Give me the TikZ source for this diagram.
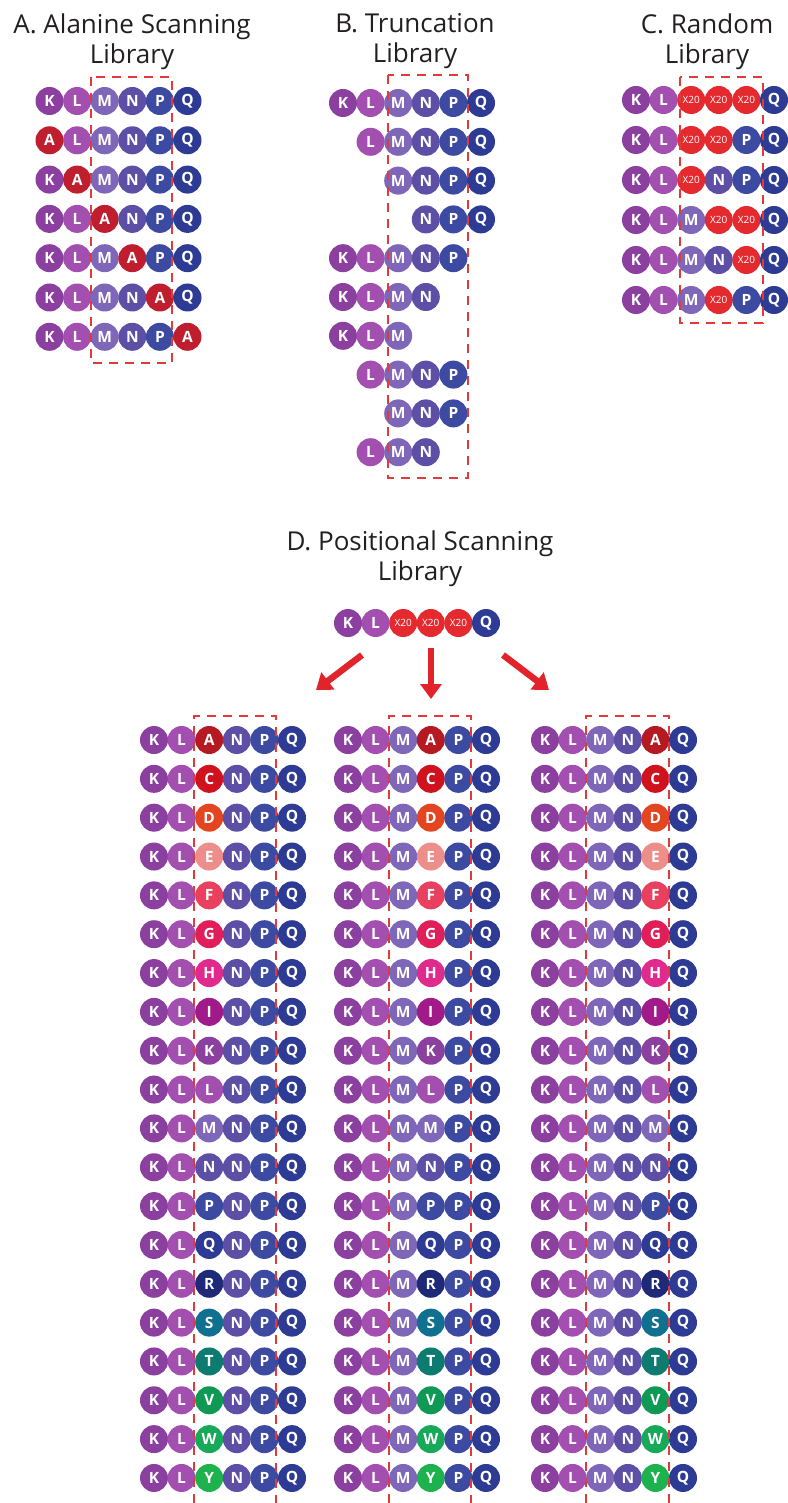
\documentclass[tikz,border=0pt]{standalone}
\usepackage{fontspec}
\setmainfont{Open Sans}
\usetikzlibrary{arrows.meta}

% residue colours
\definecolor{cK}{HTML}{8B3F9F}
\definecolor{cL}{HTML}{A24FB0}
\definecolor{cM}{HTML}{7E66B8}
\definecolor{cN}{HTML}{5D4FA6}
\definecolor{cP}{HTML}{3D4AA1}
\definecolor{cQ}{HTML}{2D3B94}
\definecolor{ala}{HTML}{BE1E2D}
\definecolor{cX}{HTML}{E52A2F}
% substituted residues
\definecolor{sA}{HTML}{B51A22}
\definecolor{sC}{HTML}{D0121F}
\definecolor{sD}{HTML}{E2451F}
\definecolor{sE}{HTML}{EE8E8A}
\definecolor{sF}{HTML}{E8405E}
\definecolor{sG}{HTML}{E01E5A}
\definecolor{sH}{HTML}{E02A8E}
\definecolor{sI}{HTML}{A01A8A}
\definecolor{sR}{HTML}{1E2A78}
\definecolor{sS}{HTML}{10708F}
\definecolor{sT}{HTML}{0D7B70}
\definecolor{sV}{HTML}{0F9955}
\definecolor{sW}{HTML}{18A85A}
\definecolor{sY}{HTML}{1EB24E}
\definecolor{dashred}{HTML}{E03A3A}
\definecolor{arrowred}{HTML}{E3232B}
\definecolor{titlegray}{HTML}{231F20}

\def\resstep{27.6}
\newcommand\xtwenty{{\mdseries\fontsize{10}{10}\selectfont X20}}

% one peptide chain: name, x of column 1, y, first column, list colour/letter
\newcommand\pepchain[5]{%
  \foreach [count=\i from #4] \col/\lab in {#5}{%
    \node[res, fill=\col] (#1-\i) at ({#2+(\i-1)*\resstep}, {#3}) {\lab};
  }}

\tikzset{
  res/.style={circle, minimum size=28pt, inner sep=0pt, text=white,
    font=\bfseries\fontsize{15.5}{15.5}\selectfont},
  title/.style={anchor=north, align=center, inner sep=0pt, text=titlegray,
    font=\fontsize{26}{30}\selectfont},
  dashbox/.style={draw=dashred, line width=2.4pt, dash pattern=on 9pt off 7pt},
  bigarrow/.style={draw=arrowred, line width=6.5pt,
    -{Triangle[length=15pt, width=21pt]}}
}

\begin{document}
\begin{tikzpicture}[x=1pt, y=-1pt]
\useasboundingbox (0,0) rectangle (787,1503);

% titles
\node[title] (titleA) at (132,13.2) {A. Alanine Scanning\\Library};
\node[title] (titleB) at (415,13.2) {B. Truncation\\Library};
\node[title] (titleC) at (707,13.2) {C. Random\\Library};
\node[title] (titleD) at (420,531) {D. Positional Scanning\\Library};

% A. alanine scanning
\pepchain{a1}{49.5}{101}{1}{cK/K,cL/L,cM/M,cN/N,cP/P,cQ/Q}
\pepchain{a2}{49.5}{140.3}{1}{ala/A,cL/L,cM/M,cN/N,cP/P,cQ/Q}
\pepchain{a3}{49.5}{179.6}{1}{cK/K,ala/A,cM/M,cN/N,cP/P,cQ/Q}
\pepchain{a4}{49.5}{218.9}{1}{cK/K,cL/L,ala/A,cN/N,cP/P,cQ/Q}
\pepchain{a5}{49.5}{258.2}{1}{cK/K,cL/L,cM/M,ala/A,cP/P,cQ/Q}
\pepchain{a6}{49.5}{297.5}{1}{cK/K,cL/L,cM/M,cN/N,ala/A,cQ/Q}
\pepchain{a7}{49.5}{336.8}{1}{cK/K,cL/L,cM/M,cN/N,cP/P,ala/A}
\draw[dashbox] (91,77) rectangle (172,363);

% B. truncation
\pepchain{b1}{343}{103}{1}{cK/K,cL/L,cM/M,cN/N,cP/P,cQ/Q}
\pepchain{b2}{343}{141.8}{2}{cL/L,cM/M,cN/N,cP/P,cQ/Q}
\pepchain{b3}{343}{180.6}{3}{cM/M,cN/N,cP/P,cQ/Q}
\pepchain{b4}{343}{219.4}{4}{cN/N,cP/P,cQ/Q}
\pepchain{b5}{343}{258.2}{1}{cK/K,cL/L,cM/M,cN/N,cP/P}
\pepchain{b6}{343}{297}{1}{cK/K,cL/L,cM/M,cN/N}
\pepchain{b7}{343}{335.8}{1}{cK/K,cL/L,cM/M}
\pepchain{b8}{343}{374.6}{2}{cL/L,cM/M,cN/N,cP/P}
\pepchain{b9}{343}{413.4}{3}{cM/M,cN/N,cP/P}
\pepchain{b10}{343}{452.2}{2}{cL/L,cM/M,cN/N}
\draw[dashbox] (388,75) rectangle (468,478);

% C. random
\pepchain{c1}{636}{100}{1}{cK/K,cL/L,cX/\xtwenty,cX/\xtwenty,cX/\xtwenty,cQ/Q}
\pepchain{c2}{636}{140}{1}{cK/K,cL/L,cX/\xtwenty,cX/\xtwenty,cP/P,cQ/Q}
\pepchain{c3}{636}{180}{1}{cK/K,cL/L,cX/\xtwenty,cN/N,cP/P,cQ/Q}
\pepchain{c4}{636}{220}{1}{cK/K,cL/L,cM/M,cX/\xtwenty,cX/\xtwenty,cQ/Q}
\pepchain{c5}{636}{260}{1}{cK/K,cL/L,cM/M,cN/N,cX/\xtwenty,cQ/Q}
\pepchain{c6}{636}{300}{1}{cK/K,cL/L,cM/M,cX/\xtwenty,cP/P,cQ/Q}
\draw[dashbox] (680,77) rectangle (763,323);

% D. positional scanning: parent chain and the three sub-libraries
\pepchain{d0}{348}{623}{1}{cK/K,cL/L,cX/\xtwenty,cX/\xtwenty,cX/\xtwenty,cQ/Q}

\foreach [count=\r] \sc/\sl in {sA/A,sC/C,sD/D,sE/E,sF/F,sG/G,sH/H,sI/I,cK/K,cL/L,
    cM/M,cN/N,cP/P,cQ/Q,sR/R,sS/S,sT/T,sV/V,sW/W,sY/Y}{
  \pepchain{dl\r}{154}{740+(\r-1)*38.84}{1}{cK/K,cL/L,\sc/\sl,cN/N,cP/P,cQ/Q}
  \pepchain{dm\r}{348}{740+(\r-1)*38.84}{1}{cK/K,cL/L,cM/M,\sc/\sl,cP/P,cQ/Q}
  \pepchain{dr\r}{545}{740+(\r-1)*38.84}{1}{cK/K,cL/L,cM/M,cN/N,\sc/\sl,cQ/Q}
}

\draw[dashbox] (194,1503) -- (194,716) -- (276,716) -- (276,1503);
\draw[dashbox] (389,1503) -- (389,716) -- (471,716) -- (471,1503);
\draw[dashbox] (586,1503) -- (586,716) -- (669,716) -- (669,1503);

% arrows from the parent chain to the sub-libraries
\coordinate (arrLtail) at (362,655);
\coordinate (arrLtip) at (316,690);
\coordinate (arrCtail) at (431,648);
\coordinate (arrCtip) at (431,699);
\coordinate (arrRtail) at (503,655);
\coordinate (arrRtip) at (549,690);
\draw[bigarrow] (arrLtail) -- (arrLtip);
\draw[bigarrow] (arrCtail) -- (arrCtip);
\draw[bigarrow] (arrRtail) -- (arrRtip);
\end{tikzpicture}
\end{document}
